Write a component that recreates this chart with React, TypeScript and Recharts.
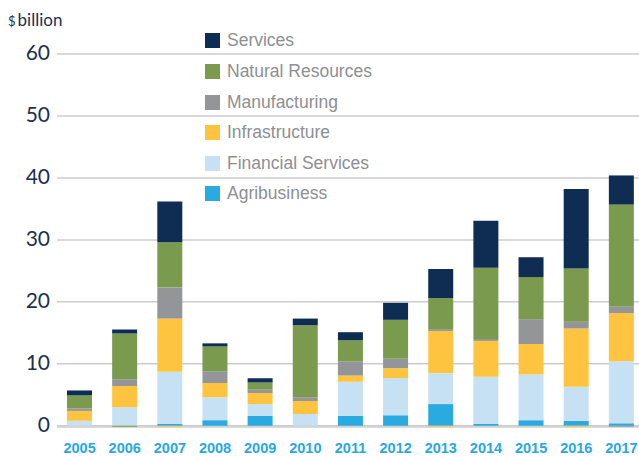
import { Bar, BarChart, CartesianGrid, Legend, XAxis, YAxis } from "recharts";

const years = ["2005", "2006", "2007", "2008", "2009", "2010", "2011", "2012", "2013", "2014", "2015", "2016", "2017"];

// $ billion, stacked bottom to top
const agribusiness = [0, 0, 0.3, 0.9, 1.6, 0, 1.6, 1.7, 3.5, 0.3, 0.9, 0.8, 0.4];
const financialServices = [0.8, 3.0, 8.4, 3.7, 1.9, 1.9, 5.5, 6.0, 5.0, 7.6, 7.4, 5.5, 10.0];
const infrastructure = [1.6, 3.4, 8.6, 2.3, 1.8, 2.1, 1.0, 1.6, 6.8, 5.8, 4.9, 9.4, 7.8];
const manufacturing = [0.4, 1.1, 5.0, 1.9, 0.6, 0.6, 2.3, 1.5, 0.3, 0.3, 4.0, 1.1, 1.0];
const naturalResources = [2.1, 7.4, 7.3, 4.0, 1.1, 11.6, 3.4, 6.3, 5.0, 11.5, 6.8, 8.6, 16.5];
const services = [0.8, 0.65, 6.6, 0.5, 0.65, 1.1, 1.3, 2.75, 4.7, 7.6, 3.2, 12.8, 4.7];

// small negative amounts showing just under the zero line
const naturalResourcesNeg = [0, -0.15, 0, 0, 0, 0, 0, 0, 0, 0, 0, 0, 0];
const infrastructureNeg = [0, 0, -0.15, 0, 0, 0, 0, 0, -0.15, 0, 0, -0.15, 0];
const manufacturingNeg = [0, 0, 0, 0, 0, 0, 0, 0, 0, 0, 0, 0, -0.15];

const yTicks = [0, 10, 20, 30, 40, 50, 60];

const series = [
  { key: "agribusiness", name: "Agribusiness", color: "#29abe2" },
  { key: "financialServices", name: "Financial Services", color: "#c5e1f3" },
  { key: "infrastructure", name: "Infrastructure", color: "#fec440" },
  { key: "manufacturing", name: "Manufacturing", color: "#939598" },
  { key: "naturalResources", name: "Natural Resources", color: "#7a9a4e" },
  { key: "services", name: "Services", color: "#0f2d52" },
];

const negSeries = [
  { key: "naturalResourcesNeg", color: "#7a9a4e" },
  { key: "infrastructureNeg", color: "#fec440" },
  { key: "manufacturingNeg", color: "#939598" },
];

const data = years.map((year, i) => ({
  year,
  agribusiness: agribusiness[i],
  financialServices: financialServices[i],
  infrastructure: infrastructure[i],
  manufacturing: manufacturing[i],
  naturalResources: naturalResources[i],
  services: services[i],
  naturalResourcesNeg: naturalResourcesNeg[i],
  infrastructureNeg: infrastructureNeg[i],
  manufacturingNeg: manufacturingNeg[i],
}));

const navy = "#1b2f52";

function YTick({ y, payload }: any) {
  return (
    <text
      x={50}
      y={y + 6}
      textAnchor="end"
      fill={navy}
      fontSize={21}
      fontFamily="Lato, sans-serif"
    >
      {payload.value}
    </text>
  );
}

function XTick({ x, payload }: any) {
  return (
    <text
      x={x}
      y={453}
      textAnchor="middle"
      fill="#29a8e0"
      fontSize={14.5}
      fontWeight="bold"
      fontFamily="'Liberation Sans', Arial, sans-serif"
    >
      {payload.value}
    </text>
  );
}

function LegendBox() {
  return (
    <div style={{ fontFamily: "'Liberation Sans', Arial, sans-serif" }}>
      {[...series].reverse().map((s) => (
        <div key={s.key} style={{ display: "flex", alignItems: "center", height: 30.6 }}>
          <span style={{ width: 15, height: 15, background: s.color, marginRight: 7 }} />
          <span style={{ fontSize: 17.5, color: "#8d8f92" }}>{s.name}</span>
        </div>
      ))}
    </div>
  );
}

export default function App() {
  return (
    <div style={{ width: 639, height: 456, overflow: "hidden", position: "relative", background: "#fff" }}>
      <style>{"body{margin:0}"}</style>
      <BarChart
        width={646}
        height={456}
        data={data}
        stackOffset="sign"
        barSize={25}
        margin={{ top: 54, right: 2, left: 0, bottom: 0 }}
      >
        <text x={8} y={26} fill={navy} fontFamily="Lato, sans-serif">
          <tspan fontSize={13}>$</tspan>
          <tspan fontSize={17} dx={2}>billion</tspan>
        </text>
        <CartesianGrid vertical={false} stroke="#cccccc" strokeWidth={1.5} />
        <XAxis
          dataKey="year"
          height={29}
          axisLine={false}
          tickLine={false}
          interval={0}
          tick={<XTick />}
        />
        <YAxis
          width={57}
          domain={[-0.2, 60]}
          ticks={yTicks}
          interval={0}
          axisLine={false}
          tickLine={false}
          tick={<YTick />}
        />
        <Legend
          layout="vertical"
          align="center"
          verticalAlign="middle"
          content={<LegendBox />}
          wrapperStyle={{ position: "absolute", top: 25.7, left: 205, width: 200, height: 190 }}
        />
        {series.map((s) => (
          <Bar key={s.key} dataKey={s.key} name={s.name} stackId="a" fill={s.color} isAnimationActive={false} />
        ))}
        {negSeries.map((s) => (
          <Bar key={s.key} dataKey={s.key} stackId="a" fill={s.color} legendType="none" isAnimationActive={false} />
        ))}
      </BarChart>
    </div>
  );
}
